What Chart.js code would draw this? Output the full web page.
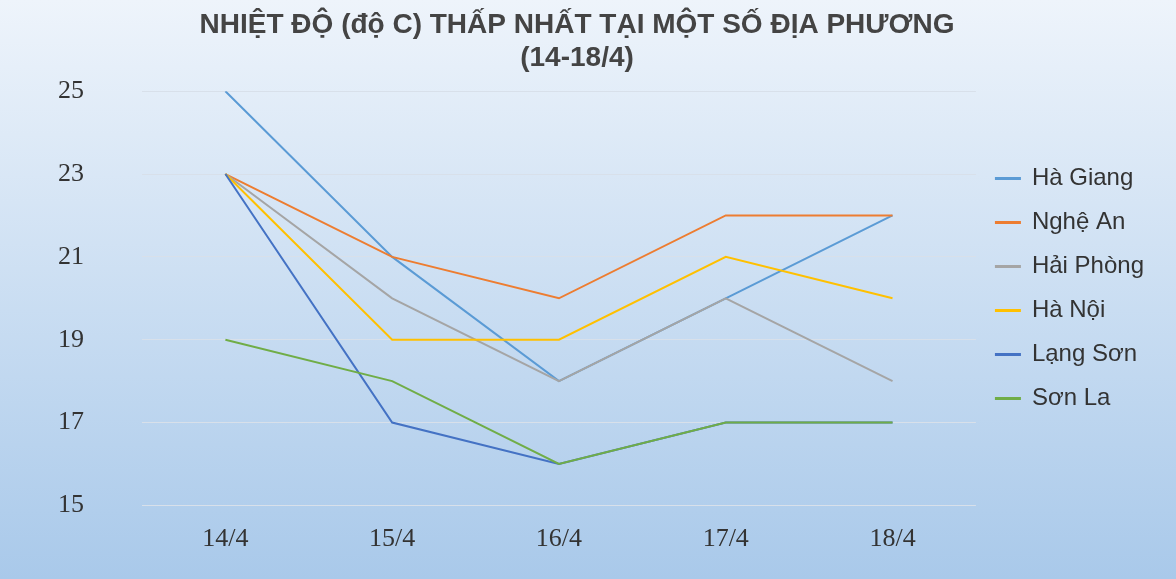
<!DOCTYPE html>
<html><head><meta charset="utf-8">
<script src="https://cdn.jsdelivr.net/npm/chart.js@4"></script>
<style>html,body{margin:0;padding:0;}#w{width:1176px;height:579px;background:linear-gradient(#eef4fb,#a9c9ea);}</style>
</head><body><div id="w"><canvas id="c" width="1176" height="579"></canvas></div>
<script>
const categories=["14/4","15/4","16/4","17/4","18/4"];
const haGiang=[25,21,18,20,22];
const ngheAn=[23,21,20,22,22];
const haiPhong=[23,20,18,20,18];
const haNoi=[23,19,19,21,20];
const langSon=[23,17,16,17,17];
const sonLa=[19,18,16,17,17];
const yTicks=[15,17,19,21,23,25];
const mk=(l,d,c,o)=>({label:l,data:d,borderColor:c,backgroundColor:c,borderWidth:2,pointRadius:0,tension:0,order:o});
new Chart(document.getElementById('c'),{type:'line',
data:{labels:categories,datasets:[mk('Hà Giang',haGiang,'#5B9BD5',6),mk('Nghệ An',ngheAn,'#ED7D31',5),mk('Hải Phòng',haiPhong,'#A5A5A5',4),mk('Hà Nội',haNoi,'#FFC000',3),mk('Lạng Sơn',langSon,'#4472C4',2),mk('Sơn La',sonLa,'#70AD47',1)]},
options:{responsive:false,animation:false,layout:{padding:{left:0,right:22,top:2,bottom:4}},
plugins:{title:{display:true,text:['NHIỆT ĐỘ (độ C) THẤP NHẤT TẠI MỘT SỐ ĐỊA PHƯƠNG','(14-18/4)'],color:'#444',font:{family:'Arial, Liberation Sans',size:28,weight:'bold'},padding:{top:6,bottom:16},lineHeight:1.3},
legend:{position:'right',align:'center',labels:{boxWidth:24,boxHeight:1,color:'#333',font:{family:'Arial, Liberation Sans',size:24},padding:20,sort:(a,b)=>a.datasetIndex-b.datasetIndex}},tooltip:{enabled:false}},
scales:{x:{offset:true,grid:{display:false},border:{display:false},ticks:{color:'#333',font:{family:'Liberation Serif, Times New Roman',size:26},padding:10}},
y:{min:15,max:25,afterBuildTicks:a=>{a.ticks=yTicks.map(v=>({value:v}));},grid:{color:'#d8e0ea',lineWidth:1,drawTicks:false},border:{display:false},ticks:{color:'#333',font:{family:'Liberation Serif, Times New Roman',size:26},padding:58}}}}});
</script></body></html>
